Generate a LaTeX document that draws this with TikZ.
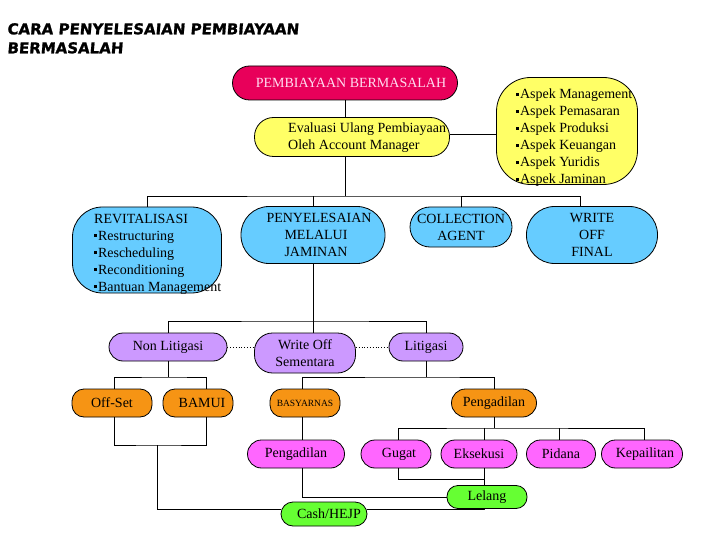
\documentclass[tikz,border=0pt]{standalone}
\usepackage{fontspec}
\setmainfont{Liberation Serif}
\newfontfamily\titlefont[FakeSlant=0.08,FakeBold=1.2]{DejaVu Sans}
\definecolor{crim}{RGB}{232,0,90}
\definecolor{pinktxt}{RGB}{255,220,240}
\definecolor{yel}{RGB}{255,255,102}
\definecolor{sky}{RGB}{102,204,255}
\definecolor{lav}{RGB}{204,153,255}
\definecolor{ora}{RGB}{246,148,20}
\definecolor{mag}{RGB}{255,102,255}
\definecolor{grn}{RGB}{102,255,51}
\newcommand\sqbul{\rule[3.2pt]{2.6pt}{2.6pt}\hspace{1.2pt}}
\begin{document}
\begin{tikzpicture}[x=1pt,y=-1pt,
  box/.style={draw=black, line width=0.8pt, inner sep=0pt, font=\fontsize{14}{17}\selectfont},
  txt/.style={inner sep=0pt, font=\fontsize{14}{17}\selectfont, align=left},
  conn/.style={draw=black, line width=0.8pt}]
\useasboundingbox[fill=white] (0,0) rectangle (720,540);
% title
\node[anchor=north west, inner sep=0pt, align=left, font=\titlefont\bfseries\fontsize{15}{19}\selectfont] (title) at (7,23)
  {CARA PENYELESAIAN PEMBIAYAAN\\BERMASALAH};
% level 0
\node[box, fill=crim, minimum width=225, minimum height=34, rounded corners=17] (top) at (345,83) {};
\node[txt, text=pinktxt] (topT) at (351,83) {PEMBIAYAAN BERMASALAH};
\node[box, fill=yel, minimum width=195, minimum height=39, rounded corners=19] (eval) at (352,137) {};
\node[txt, anchor=west] (evalT) at (288,138) {Evaluasi Ulang Pembiayaan\\Oleh Account Manager};
\node[box, fill=yel, minimum width=141, minimum height=107, rounded corners=34] (aspek) at (567,131) {};
\node[txt, anchor=west] (aspekT) at (516,138) {\sqbul Aspek Management\\\sqbul Aspek Pemasaran\\\sqbul Aspek Produksi\\\sqbul Aspek Keuangan\\\sqbul Aspek Yuridis\\\sqbul Aspek Jaminan};
% level 1
\node[box, fill=sky, minimum width=149, minimum height=86, rounded corners=30] (revit) at (147,250) {};
\node[txt, anchor=west] (revitT) at (94,254) {REVITALISASI\\\sqbul Restructuring\\\sqbul Rescheduling\\\sqbul Reconditioning\\\sqbul Bantuan Management};
\node[box, fill=sky, minimum width=144, minimum height=57, rounded corners=28, align=center] (jam) at (313,235) {\hspace*{12pt}PENYELESAIAN\\\hspace*{6pt}MELALUI\\\hspace*{6pt}JAMINAN};
\node[box, fill=sky, minimum width=102, minimum height=40, rounded corners=20, align=center] (coll) at (461,227) {COLLECTION\\AGENT};
\node[box, fill=sky, minimum width=131, minimum height=57, rounded corners=28, align=center] (wof) at (592,235) {WRITE\\OFF\\FINAL};
% level 2
\node[box, fill=lav, minimum width=118, minimum height=28, rounded corners=14] (nonlit) at (168,347) {Non Litigasi};
\node[box, fill=lav, minimum width=101, minimum height=40, rounded corners=18, align=center] (wos) at (305,353) {Write Off\\Sementara};
\node[box, fill=lav, minimum width=74, minimum height=28, rounded corners=14] (lit) at (426,347) {\raisebox{-3pt}{Litigasi}};
% level 3
\node[box, fill=ora, minimum width=80, minimum height=28, rounded corners=12] (offset) at (112,403) {Off-Set};
\node[box, fill=ora, minimum width=70, minimum height=28, rounded corners=12] (bamui) at (198,403) {\hspace*{8pt}BAMUI};
\node[box, fill=ora, minimum width=70, minimum height=28, rounded corners=12, font=\fontsize{9.5}{11}\selectfont] (basy) at (305,403) {BASYARNAS};
\node[box, fill=ora, minimum width=85, minimum height=28, rounded corners=14] (peng1) at (494,403) {Pengadilan};
% level 4
\node[box, fill=mag, minimum width=97, minimum height=28, rounded corners=14] (peng2) at (296,454) {Pengadilan};
\node[box, fill=mag, minimum width=70, minimum height=28, rounded corners=14] (gugat) at (396,454) {\hspace*{6pt}Gugat};
\node[box, fill=mag, minimum width=76, minimum height=28, rounded corners=14] (eks) at (479,454) {Eksekusi};
\node[box, fill=mag, minimum width=69, minimum height=28, rounded corners=14] (pid) at (561,454) {Pidana};
\node[box, fill=mag, minimum width=81, minimum height=28, rounded corners=14] (kep) at (642,454) {\hspace*{6pt}Kepailitan};
% level 5
\node[box, fill=grn, minimum width=80, minimum height=23, rounded corners=11] (lelang) at (487,497) {Lelang};
\node[box, fill=grn, minimum width=86, minimum height=24, rounded corners=12] (cash) at (324,514) {\hspace*{10pt}Cash/HEJP};
% bus coordinates
\coordinate (b1) at (345,196);
\coordinate (b2) at (313,321);
\coordinate (b3) at (168,377);
\coordinate (b4) at (426,377);
\coordinate (b5) at (494,428);
\coordinate (b6) at (157,445);
\coordinate (j1) at (484,479);
% connectors
\draw[conn] (top.south) -- (top.south |- eval.north);
\draw[conn] (top.south |- eval.south) -- (b1);
\draw[conn] (eval.east |- 0,134) -- (aspek.west |- 0,134);
\draw[conn] (revit.north) |- (b1) -| ([xshift=-12pt]wof.north);
\draw[conn] (jam.north) -- (jam.north |- b1);
\draw[conn] (coll.north) -- (coll.north |- b1);
\draw[conn] (jam.south) -- (jam.south |- wos.north);
\draw[conn] (nonlit.north) |- (b2) -| (lit.north);
\draw[conn, dotted] (nonlit.east) -- (wos.west |- nonlit.east);
\draw[conn, dotted] (wos.east |- lit.west) -- (lit.west);
\draw[conn] (nonlit.south) -- (b3);
\draw[conn] ([xshift=2pt]offset.north) |- (b3) -| ([xshift=8pt]bamui.north);
\draw[conn] (lit.south) -- (b4);
\draw[conn] ([xshift=-3pt]basy.north) |- (b4) -| (peng1.north);
\draw[conn] ([xshift=-3pt]basy.south) -- ([xshift=-3pt]basy.south |- peng2.north);
\draw[conn] (peng1.south) -- (b5);
\draw[conn] ([xshift=2pt]gugat.north) |- (b5) -| ([xshift=2pt]kep.north);
\draw[conn] ([xshift=5pt]eks.north) -- ([xshift=5pt]eks.north |- b5);
\draw[conn] ([xshift=-2pt]pid.north) -- ([xshift=-2pt]pid.north |- b5);
\draw[conn] ([xshift=2pt]gugat.south) |- (j1);
\draw[conn] ([xshift=5pt]eks.south) -- ([xshift=5pt]eks.south |- lelang.north);
\draw[conn] ([xshift=6pt]peng2.south) |- (lelang.west);
\draw[conn] ([xshift=-3pt]lelang.south) |- ([yshift=5pt]cash.east);
\draw[conn] ([xshift=2pt]offset.south) |- (b6) -| ([xshift=8pt]bamui.south);
\draw[conn] (b6) |- ([yshift=5pt]cash.west);
\end{tikzpicture}
\end{document}
